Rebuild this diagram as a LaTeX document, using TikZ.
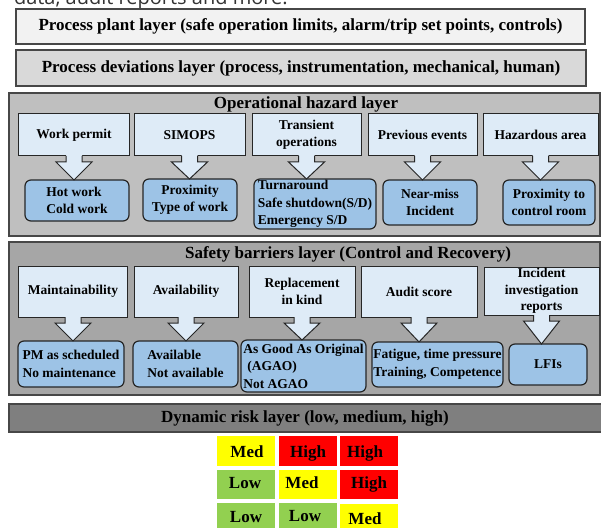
\documentclass[tikz,border=0pt]{standalone}
\usepackage{fontspec}
\setmainfont{Liberation Serif}
\newfontfamily\opensans{Open Sans}
\usetikzlibrary{calc}
\definecolor{plantfill}{HTML}{F2F2F2}
\definecolor{devfill}{HTML}{D9D9D9}
\definecolor{lonefill}{HTML}{BFBFBF}
\definecolor{ltwofill}{HTML}{A6A6A6}
\definecolor{dynfill}{HTML}{7F7F7F}
\definecolor{edge}{HTML}{474747}
\definecolor{boxedge}{HTML}{262626}
\definecolor{upfill}{HTML}{DEEBF7}
\definecolor{lowfill}{HTML}{9DC3E6}
\definecolor{ryel}{HTML}{FFFF00}
\definecolor{rred}{HTML}{FF0000}
\definecolor{rgrn}{HTML}{92D050}
\tikzset{
  every node/.style={outer sep=0pt},
  wh/.style 2 args={minimum width=#1bp, minimum height=#2bp},
  plainbox/.style={draw=edge, line width=1.5bp, inner sep=0pt},
  ttl/.style={inner sep=0pt, font=\bfseries\fontsize{17bp}{19bp}\selectfont},
  upbox/.style={draw=boxedge, fill=upfill, line width=1bp, inner sep=0pt, align=center,
    font=\bfseries\fontsize{13.5bp}{16.5bp}\selectfont},
  lowbox/.style={draw=boxedge, fill=lowfill, line width=1.2bp, rounded corners=6bp,
    inner sep=0pt, align=left, font=\bfseries\fontsize{13.5bp}{17.5bp}\selectfont},
  lowboxc/.style={lowbox, align=center},
  cline/.style={draw=boxedge, line width=1bp, line join=miter},
  cell/.style={draw=white, line width=1.2bp, inner sep=0pt},
  celltxt/.style={inner sep=0pt, font=\bfseries\fontsize{17bp}{19bp}\selectfont},
  cuttxt/.style={inner sep=0pt, anchor=base west, text=black!80,
    font=\opensans\fontsize{20bp}{22bp}\selectfont}
}
\newcommand\calloutarrow[2]{%
  \fill[upfill] ($(#1.south)+(-8,-1.5)$) -- ($(#1.south)+(8,-1.5)$) -- ($(#1.south)+(8,6)$)
    -- ($(#1.south)+(18,6)$) -- (#1.south |- #2.north) -- ($(#1.south)+(-18,6)$)
    -- ($(#1.south)+(-8,6)$) -- cycle;
  \draw[cline] ($(#1.south)+(8,0)$) -- ($(#1.south)+(8,6)$) -- ($(#1.south)+(18,6)$)
    -- (#1.south |- #2.north) -- ($(#1.south)+(-18,6)$) -- ($(#1.south)+(-8,6)$)
    -- ($(#1.south)+(-8,0)$);}
\begin{document}
\begin{tikzpicture}[x=1bp, y=-1bp]
\useasboundingbox (0,0) rectangle (601,528);

% cut-off text at the very top
\node[cuttxt] (cut) at (14,5) {data, audit reports and more.};

% top layers
\node[plainbox, fill=plantfill, wh={569}{35}, ttl] (plant) at (300.5,26.5)
  {Process plant layer (safe operation limits, alarm/trip set points, controls)};
\node[plainbox, fill=devfill, wh={570}{36}, ttl] (dev) at (301,68)
  {Process deviations layer (process, instrumentation, mechanical, human)};

% operational hazard layer
\node[plainbox, fill=lonefill, wh={591}{143}] (ophaz) at (304.5,164.5) {};
\node[ttl] (ophazt) at (306,104.5) {Operational hazard layer};

\node[upbox, wh={110}{42}] (wp)  at (74,135)    {Work permit};
\node[upbox, wh={111}{42}] (sim) at (189.5,135) {SIMOPS};
\node[upbox, wh={109}{42}] (tr)  at (306.5,135) {Transient\\operations};
\node[upbox, wh={109}{42}] (pe)  at (422.5,135) {Previous events};
\node[upbox, wh={115}{42}] (ha)  at (540.5,135) {Hazardous area};

\node[lowbox,  wh={104}{41}] (hw) at (77,200.5)  {Hot work\\Cold work};
\node[lowboxc, wh={94}{42}]  (px) at (190,200)   {Proximity\\Type of work};
\node[lowbox,  wh={122}{50}] (ta) at (315,204)   {Turnaround\\Safe shutdown(S/D)\\Emergency S/D};
\node[lowboxc, wh={94}{45}]  (nm) at (430,202.5) {Near-miss\\Incident};
\node[lowboxc, wh={92}{45}]  (pc) at (549,202.5) {Proximity to\\control room};

\calloutarrow{wp}{hw}
\calloutarrow{sim}{px}
\calloutarrow{tr}{ta}
\calloutarrow{pe}{nm}
\calloutarrow{ha}{pc}

% safety barriers layer
\node[plainbox, fill=ltwofill, wh={591}{153}] (safe) at (304.5,318.5) {};
\node[ttl] (safet) at (348,254) {Safety barriers layer (Control and Recovery)};

\node[upbox, wh={108}{51}] (mt) at (73,291.5)    {Maintainability};
\node[upbox, wh={104}{51}] (av) at (186,291.5)   {Availability};
\node[upbox, wh={106}{51}] (rk) at (302,291.5)   {Replacement\\in kind};
\node[upbox, wh={116}{51}] (as) at (419,291.5)   {Audit score};
\node[upbox, wh={115}{48}] (ir) at (541.5,291)   {Incident\\investigation\\reports};

\node[lowbox,  wh={106}{46}] (pm)  at (71,364)     {PM as scheduled\\No maintenance};
\node[lowbox,  wh={105}{46}] (avl) at (185.5,364)  {Available\\Not available};
\node[lowbox,  wh={125}{52}] (ag)  at (303.5,366)  {As Good As Original\\\hspace*{4bp}(AGAO)\\Not AGAO};
\node[lowbox,  wh={131}{45}] (ft)  at (437.5,364.5) {Fatigue, time pressure\\Training, Competence};
\node[lowboxc, wh={78}{41}]  (lf)  at (548,364.5)  {LFIs};

\calloutarrow{mt}{pm}
\calloutarrow{av}{avl}
\calloutarrow{rk}{ag}
\calloutarrow{as}{ft}
\calloutarrow{ir}{lf}

% dynamic risk layer
\node[plainbox, fill=dynfill, wh={600}{28}] (dyn) at (309,418) {};
\node[ttl] (dynt) at (305,418.5) {Dynamic risk layer (low, medium, high)};

% risk matrix
\node[cell, fill=ryel, wh={60}{32}] (c11) at (246,451) {};
\node[cell, fill=rred, wh={60}{32}] (c12) at (308,451) {};
\node[cell, fill=rred, wh={60}{32}] (c13) at (369,451) {};
\node[cell, fill=rgrn, wh={60}{31}] (c21) at (246,484.5) {};
\node[cell, fill=ryel, wh={60}{31}] (c22) at (308,484.5) {};
\node[cell, fill=rred, wh={60}{31}] (c23) at (369,484.5) {};
\node[cell, fill=rgrn, wh={60}{33}] (c31) at (246,518.5) {};
\node[cell, fill=rgrn, wh={60}{33}] (c32) at (308,518.5) {};
\node[cell, fill=ryel, wh={60}{32}] (c33) at (369,519) {};

\node[celltxt] (t11) at (247,452) {Med};
\node[celltxt] (t12) at (308,453) {High};
\node[celltxt] (t13) at (365,453) {High};
\node[celltxt] (t21) at (245,483) {Low};
\node[celltxt] (t22) at (302,483) {Med};
\node[celltxt] (t23) at (369,484) {High};
\node[celltxt] (t31) at (246,517) {Low};
\node[celltxt] (t32) at (305,516) {Low};
\node[celltxt] (t33) at (365,519) {Med};
\end{tikzpicture}
\end{document}
